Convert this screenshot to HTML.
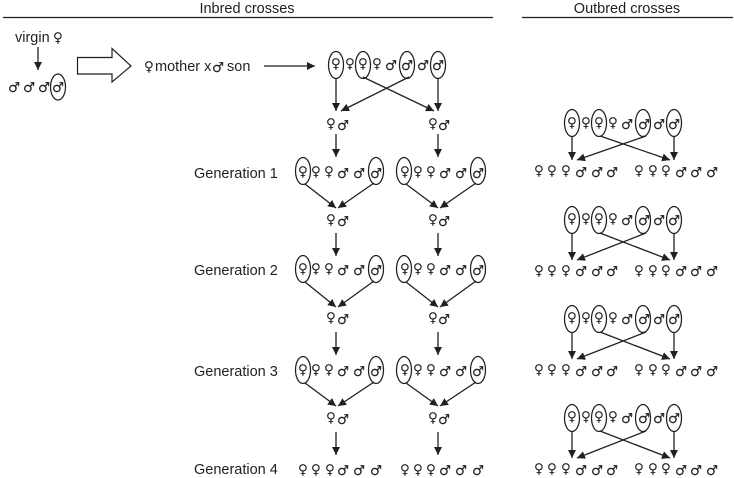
<!DOCTYPE html>
<html><head><meta charset="utf-8"><style>
html,body{margin:0;padding:0;background:#fff}
svg{display:block}
text{font-family:"Liberation Sans",sans-serif;fill:#231f20}
.t{font-size:14.5px}
.s{font-family:"DejaVu Sans",sans-serif;font-size:13.5px;text-anchor:middle}
.m{font-family:"DejaVu Sans",sans-serif;font-size:13.5px;text-anchor:middle;stroke:#231f20;stroke-width:.15}
ellipse{fill:none;stroke:#231f20;stroke-width:1.25}
.l{stroke:#231f20;stroke-width:1.3;fill:none;marker-end:url(#a)}
</style></head><body>
<svg width="734" height="478" viewBox="0 0 734 478" xmlns="http://www.w3.org/2000/svg">
<defs><marker id="a" markerUnits="userSpaceOnUse" markerWidth="9" markerHeight="9" refX="8" refY="4" orient="auto"><path d="M0 0L8 4L0 8z" fill="#231f20"/></marker></defs>
<text class="t" x="247" y="13" text-anchor="middle">Inbred crosses</text>
<text class="t" x="627" y="13" text-anchor="middle">Outbred crosses</text>
<path d="M3 17.500H493M522 17.500H733" stroke="#231f20" stroke-width="1.3"/>
<text class="t" x="15" y="42">virgin</text>
<text class="s" x="58" y="42">♀</text>
<path class="l" d="M38 47V70"/>
<text class="m" x="14 29 44 58" y="92">♂♂♂♂</text>
<ellipse cx="58" cy="87" rx="7.500" ry="13"/>
<path d="M77.500 57.500H112V48.500L131 66L112 82V74H77.500Z" fill="#fff" stroke="#231f20" stroke-width="1.2"/>
<text class="s" x="149" y="71">♀</text>
<text class="t" x="155" y="71">mother x</text>
<text class="m" x="218" y="72">♂</text>
<text class="t" x="227" y="71">son</text>
<path class="l" d="M264 66H315"/>

<text class="s" x="336 350 363 377" y="68">♀♀♀♀</text>
<text class="m" x="391 407 423 438" y="70">♂♂♂♂</text>
<ellipse cx="336" cy="65" rx="7.500" ry="13.500"/><ellipse cx="363" cy="65" rx="7.500" ry="13.500"/><ellipse cx="407" cy="65" rx="7.500" ry="13.500"/><ellipse cx="438" cy="65" rx="7.500" ry="13.500"/>
<path class="l" d="M336 78V111"/><path class="l" d="M409 77L341 111"/><path class="l" d="M363 77L434 111"/><path class="l" d="M438 78V111"/>
<text class="s" x="331 433" y="128">♀♀</text><text class="m" x="343 444" y="130">♂♂</text>
<path class="l" d="M336 134V157"/><path class="l" d="M438 134V157"/>

<text class="t" x="194" y="178">Generation 1</text>
<text class="s" x="303 316 329 405 418 431" y="176">♀♀♀♀♀♀</text>
<text class="m" x="343 359 376 445 461 478" y="178">♂♂♂♂♂♂</text>
<ellipse cx="303" cy="171" rx="7.500" ry="13.500"/><ellipse cx="376" cy="171" rx="7.500" ry="13.500"/><ellipse cx="404" cy="171" rx="7.500" ry="13.500"/><ellipse cx="478" cy="171" rx="7.500" ry="13.500"/>
<path class="l" d="M305 184L336 208"/><path class="l" d="M374 183L338 208"/><path class="l" d="M406 184L438 208"/><path class="l" d="M476 183L440 208"/>
<text class="s" x="331 433" y="224">♀♀</text><text class="m" x="343 444" y="226">♂♂</text>
<path class="l" d="M336 233V256"/><path class="l" d="M438 233V256"/>

<text class="t" x="194" y="275">Generation 2</text>
<text class="s" x="303 316 329 405 418 431" y="273">♀♀♀♀♀♀</text>
<text class="m" x="343 359 376 445 461 478" y="275">♂♂♂♂♂♂</text>
<ellipse cx="303" cy="269" rx="7.500" ry="13.500"/><ellipse cx="376" cy="269" rx="7.500" ry="13.500"/><ellipse cx="404" cy="269" rx="7.500" ry="13.500"/><ellipse cx="478" cy="269" rx="7.500" ry="13.500"/>
<path class="l" d="M305 282L336 307"/><path class="l" d="M374 281L338 307"/><path class="l" d="M406 282L438 307"/><path class="l" d="M476 281L440 307"/>
<text class="s" x="331 433" y="322">♀♀</text><text class="m" x="343 444" y="324">♂♂</text>
<path class="l" d="M336 332V355"/><path class="l" d="M438 332V355"/>

<text class="t" x="194" y="376">Generation 3</text>
<text class="s" x="303 316 329 405 418 431" y="374">♀♀♀♀♀♀</text>
<text class="m" x="343 359 376 445 461 478" y="376">♂♂♂♂♂♂</text>
<ellipse cx="303" cy="370" rx="7.500" ry="13.500"/><ellipse cx="376" cy="370" rx="7.500" ry="13.500"/><ellipse cx="404" cy="370" rx="7.500" ry="13.500"/><ellipse cx="478" cy="370" rx="7.500" ry="13.500"/>
<path class="l" d="M305 383L336 406"/><path class="l" d="M374 382L338 406"/><path class="l" d="M406 383L438 406"/><path class="l" d="M476 382L440 406"/>
<text class="s" x="331 433" y="422">♀♀</text><text class="m" x="343 444" y="424">♂♂</text>
<path class="l" d="M336 432V455"/><path class="l" d="M438 432V455"/>

<text class="t" x="194" y="474">Generation 4</text>
<text class="s" x="303 316 330 405 418 431" y="474">♀♀♀♀♀♀</text>
<text class="m" x="343 359 376 445 461 478" y="475">♂♂♂♂♂♂</text>

<text class="s" x="572 586 599 613" y="127">♀♀♀♀</text><text class="m" x="627 644 659 674" y="129">♂♂♂♂</text>
<ellipse cx="572" cy="123" rx="7.500" ry="13.500"/><ellipse cx="599" cy="123" rx="7.500" ry="13.500"/><ellipse cx="643" cy="123" rx="7.500" ry="13.500"/><ellipse cx="674" cy="123" rx="7.500" ry="13.500"/>
<path class="l" d="M572 136V160"/><path class="l" d="M646 136L577 160"/><path class="l" d="M600 136L670 160"/><path class="l" d="M674 136V160"/>
<text class="s" x="539 552 566 639 653 666" y="175">♀♀♀♀♀♀</text><text class="m" x="581 597 612 681 696 712" y="177">♂♂♂♂♂♂</text>

<text class="s" x="572 586 599 613" y="223">♀♀♀♀</text><text class="m" x="627 644 659 674" y="225">♂♂♂♂</text>
<ellipse cx="572" cy="220" rx="7.500" ry="13.500"/><ellipse cx="599" cy="220" rx="7.500" ry="13.500"/><ellipse cx="643" cy="220" rx="7.500" ry="13.500"/><ellipse cx="674" cy="220" rx="7.500" ry="13.500"/>
<path class="l" d="M572 233V260"/><path class="l" d="M646 233L577 260"/><path class="l" d="M600 233L670 260"/><path class="l" d="M674 233V260"/>
<text class="s" x="539 552 566 639 653 666" y="275">♀♀♀♀♀♀</text><text class="m" x="581 597 612 681 696 712" y="276">♂♂♂♂♂♂</text>

<text class="s" x="572 586 599 613" y="322">♀♀♀♀</text><text class="m" x="627 644 659 674" y="324">♂♂♂♂</text>
<ellipse cx="572" cy="319" rx="7.500" ry="13.500"/><ellipse cx="599" cy="319" rx="7.500" ry="13.500"/><ellipse cx="643" cy="319" rx="7.500" ry="13.500"/><ellipse cx="674" cy="319" rx="7.500" ry="13.500"/>
<path class="l" d="M572 332V359"/><path class="l" d="M646 332L577 359"/><path class="l" d="M600 332L670 359"/><path class="l" d="M674 332V359"/>
<text class="s" x="539 552 566 639 653 666" y="374">♀♀♀♀♀♀</text><text class="m" x="581 597 612 681 696 712" y="376">♂♂♂♂♂♂</text>

<text class="s" x="572 586 599 613" y="421">♀♀♀♀</text><text class="m" x="627 644 659 674" y="423">♂♂♂♂</text>
<ellipse cx="572" cy="418" rx="7.500" ry="13.500"/><ellipse cx="599" cy="418" rx="7.500" ry="13.500"/><ellipse cx="643" cy="418" rx="7.500" ry="13.500"/><ellipse cx="674" cy="418" rx="7.500" ry="13.500"/>
<path class="l" d="M572 431V458"/><path class="l" d="M646 431L577 458"/><path class="l" d="M600 431L670 458"/><path class="l" d="M674 431V458"/>
<text class="s" x="539 552 566 639 653 666" y="473">♀♀♀♀♀♀</text><text class="m" x="581 597 612 681 696 712" y="475">♂♂♂♂♂♂</text>
</svg></body></html>
